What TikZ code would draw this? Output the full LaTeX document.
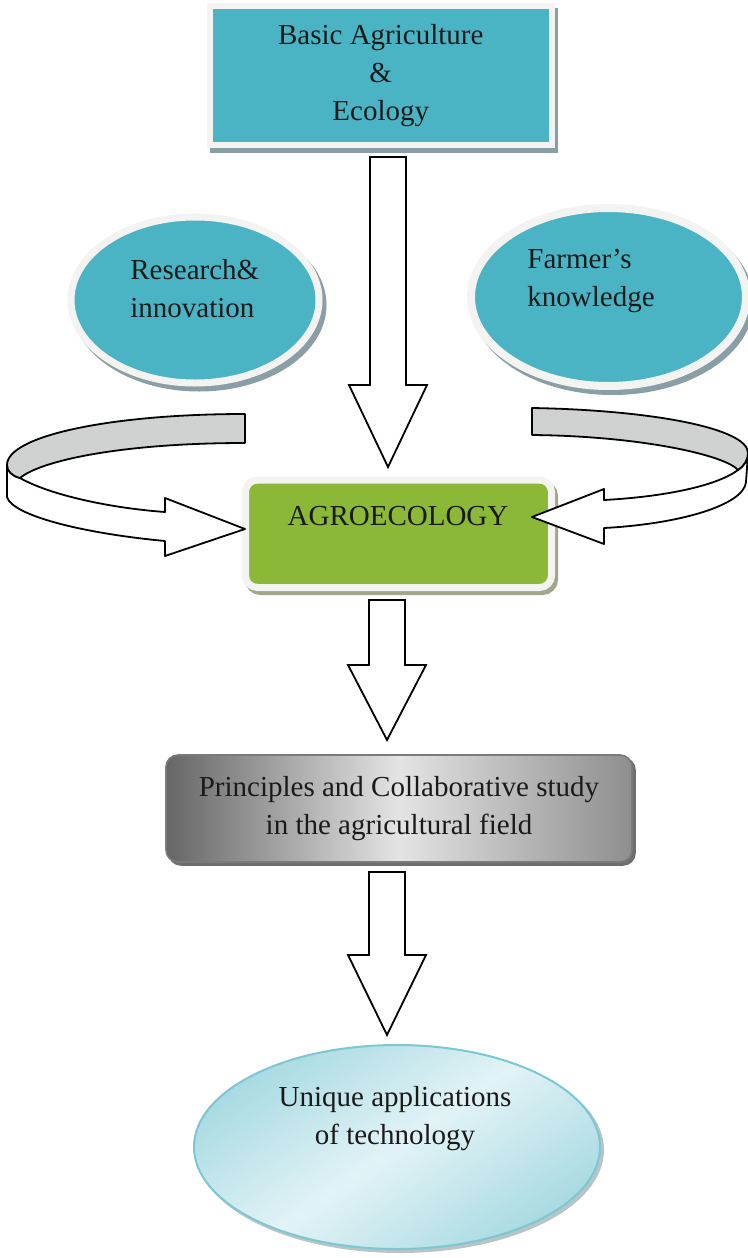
\documentclass[tikz,border=0pt]{standalone}
\usepackage{fontspec}
\setmainfont{Liberation Serif}
\usetikzlibrary{calc,shapes.geometric}

\definecolor{tealfill}{HTML}{4BB4C4}
\definecolor{ringwhite}{HTML}{F3F3F1}
\definecolor{tealshadow}{HTML}{8A9EA6}
\definecolor{agrogreen}{HTML}{8BB836}
\definecolor{agroshadow}{HTML}{A2A48C}
\definecolor{ribbongray}{HTML}{CFD2D1}
\definecolor{inkdark}{HTML}{1A1A1A}
\definecolor{graydark}{HTML}{666666}
\definecolor{graylight}{HTML}{E4E4E4}
\definecolor{grayright}{HTML}{8E8E8E}
\definecolor{grayshadow}{HTML}{6E6E6E}
\definecolor{grayline}{HTML}{7A7A7A}
\definecolor{cyanedge}{HTML}{A8DAE2}
\definecolor{cyanlight}{HTML}{E2F3F6}
\definecolor{cyanline}{HTML}{7CC7D2}
\definecolor{cyanshadow}{HTML}{B9C4C6}

\begin{document}
\begin{tikzpicture}[x=0.5pt,y=-0.5pt,
  font=\fontsize{14.5}{19}\selectfont, text=inkdark,
  shadowed/.style args={#1 at #2}{preaction={draw=#1,fill=#1,transform canvas={shift={#2}}}},
  framed/.style={draw=ringwhite, line width=3.5pt, inner sep=0pt},
  fatarrow/.style={draw=black, fill=white, line width=0.9pt, line join=miter,
    to path={let \p1=(\tikztostart), \p2=(\tikztotarget) in
      (\x1-9pt,\y1) -- (\x1-9pt,\y2+#1) -- (\x1-19.5pt,\y2+#1) -- (\x2,\y2)
      -- (\x1+19.5pt,\y2+#1) -- (\x1+9pt,\y2+#1) -- (\x1+9pt,\y1) -- cycle}},
  ribbon/.style={draw=black, line width=0.9pt, line join=round},
  plain/.style={inner sep=0pt}]

\useasboundingbox (0,0) rectangle (748,1258);
\fill[white] (0,0) rectangle (748,1258);

% top box
\node[framed, line width=3pt, fill=tealfill, rectangle,
      minimum width=170.75pt, minimum height=69.5pt, align=center,
      shadowed=tealshadow at {(1.5pt,-2.5pt)}]
  (basic) at (380.75,75.5) {Basic Agriculture\\\&\\Ecology};

% side ellipses
\node[framed, fill=tealfill, ellipse, minimum width=124pt, minimum height=83pt,
      shadowed=tealshadow at {(2pt,-2.5pt)}]
  (research) at (195,300) {};
\node[plain, anchor=west, align=left] (researchtext) at (130,289) {Research\&\\innovation};

\node[framed, line width=4pt, fill=tealfill, ellipse, minimum width=137.5pt, minimum height=89pt,
      shadowed=tealshadow at {(2pt,-2.5pt)}]
  (farmer) at (608.5,297) {};
\node[plain, anchor=west, align=left] (farmertext) at (527,281) {Farmer’s\\knowledge};

% central box
\node[framed, fill=agrogreen, rectangle, rounded corners=6pt,
      minimum width=153pt, minimum height=53.75pt,
      shadowed=agroshadow at {(1.5pt,-2pt)}]
  (agro) at (398.5,533.75) {};
\node (agrotext) at (398,516) {AGROECOLOGY};

% principles box
\node[rectangle, rounded corners=6pt, draw=grayline, line width=0.8pt,
      left color=graydark, right color=grayright, middle color=graylight,
      minimum width=233pt, minimum height=53.5pt, align=center,
      shadowed=grayshadow at {(1.5pt,-1.5pt)}]
  (principles) at (399,808.5) {Principles and Collaborative study\\in the agricultural field};

% bottom ellipse
\node[ellipse, draw=cyanline, line width=1pt,
      left color=cyanedge, right color=cyanedge, middle color=cyanlight, shading angle=35,
      minimum width=203pt, minimum height=102pt,
      shadowed=cyanshadow at {(1.5pt,-1.5pt)}]
  (unique) at (397,1147) {};
\node[align=center] (uniquetext) at (395,1119) {Unique applications\\of technology};

% straight block arrows
\coordinate (a1s) at (388,157);  \coordinate (a1e) at (388,467);
\coordinate (a2s) at (387,600);  \coordinate (a2e) at (387,740);
\coordinate (a3s) at (387,872);  \coordinate (a3e) at (387,1035);
\draw[fatarrow=41pt] (a1s) to (a1e);
\draw[fatarrow=37.5pt] (a2s) to (a2e);
\draw[fatarrow=40pt] (a3s) to (a3e);

% left curled ribbon arrow
\draw[ribbon, fill=white] (20,478) .. controls (50,495) and (110,508) .. (165,512)
  -- (165,498) -- (245,529) -- (165,556) -- (165,541)
  .. controls (80,533) and (12,515) .. (7,497) -- (7,465)
  .. controls (7,471) and (12,476) .. (20,478) -- cycle;
\draw[ribbon, fill=ribbongray] (245,414) .. controls (110,414) and (7,436) .. (7,465)
  .. controls (7,471) and (12,476) .. (20,478)
  .. controls (40,461) and (120,443) .. (245,443) -- cycle;

% right curled ribbon arrow
\draw[ribbon, fill=white] (738,470) .. controls (715,487) and (660,497) .. (604,500)
  -- (604,489) -- (532,517) -- (604,544) -- (604,528)
  .. controls (680,524) and (744,505) .. (746,482) -- (748,453)
  .. controls (748,460) and (744,466) .. (738,470) -- cycle;
\draw[ribbon, fill=ribbongray] (532,408) .. controls (650,410) and (748,428) .. (748,453)
  .. controls (748,460) and (744,466) .. (738,470)
  .. controls (725,455) and (640,436) .. (532,435) -- cycle;

\end{tikzpicture}
\end{document}
